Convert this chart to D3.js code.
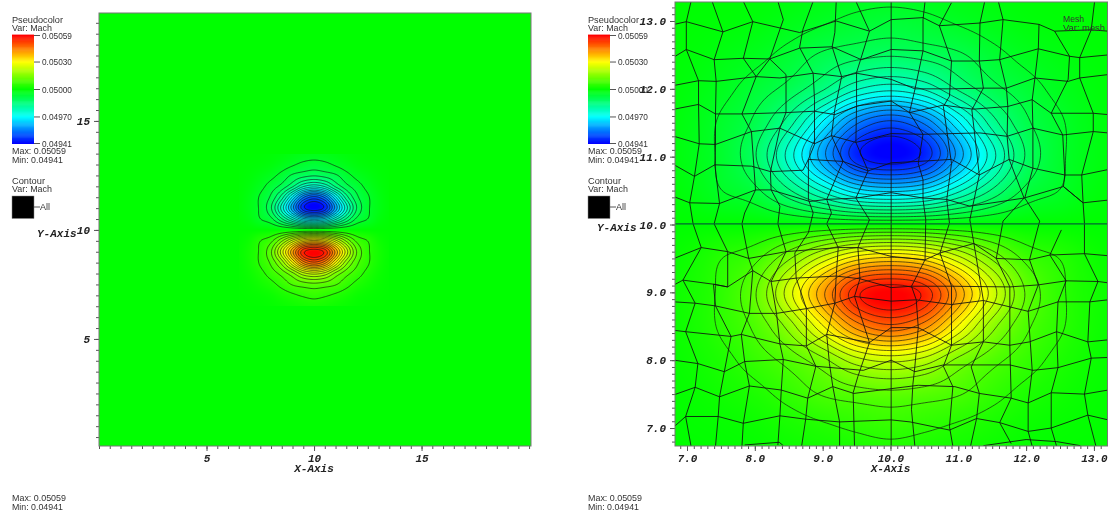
<!DOCTYPE html>
<html>
<head>
<meta charset="utf-8">
<script src="https://cdn.jsdelivr.net/npm/d3@7/dist/d3.min.js"></script>
<style>
  html, body { margin: 0; padding: 0; background: #fff; }
  #wrap { position: relative; width: 1110px; height: 519px; overflow: hidden; filter: blur(0.3px); }
  canvas, svg { position: absolute; left: 0; top: 0; }
  .legend { font-family: "Liberation Sans", Arial, sans-serif; font-size: 9px; fill: #333; }
  .axisText, .tick text { font-family: "Liberation Mono", monospace; font-size: 11px; font-weight: bold; font-style: italic; fill: #222; }
  .tick line { stroke: #555; }
  .domain { display: none; }
</style>
</head>
<body>
<div id="wrap">
  <canvas id="raster" width="1110" height="519"></canvas>
  <svg id="chart" width="1110" height="519"></svg>
</div>
<script>
// legend
var legendTicks = [0.05059, 0.05030, 0.05000, 0.04970, 0.04941];
var legendColors = ['#ff0000', '#ffff00', '#00ff00', '#00ffff', '#0000ff'];
var legendLabels = ['0.05059', '0.05030', '0.05000', '0.04970', '0.04941'];

// axis ticks
var wideTicks = [5, 10, 15];
var zoomTicks = [7, 8, 9, 10, 11, 12, 13];

// Mach on a 0.5 grid, as offset from 0.05 in millionths
var fieldXs = [6.5, 7, 7.5, 8, 8.5, 9, 9.5, 10, 10.5, 11, 11.5, 12, 12.5, 13, 13.5];
var fieldYs = [13.5, 13, 12.5, 12, 11.5, 11, 10.5, 10, 9.5, 9, 8.5, 8, 7.5, 7, 6.5];
var machBase = 0.05;
var machOffsets = [
  [0, -1, -2, -5, -10, -18, -25, -28, -25, -18, -10, -5, -2, -1, 0],
  [-1, -3, -6, -12, -25, -40, -55, -62, -55, -40, -25, -12, -6, -3, -1],
  [-2, -7, -18, -33, -58, -88, -105, -115, -105, -88, -58, -33, -18, -7, -2],
  [-3, -13, -33, -62, -95, -150, -225, -255, -225, -150, -95, -62, -33, -13, -3],
  [-4, -20, -50, -90, -175, -310, -445, -500, -445, -310, -175, -90, -50, -20, -4],
  [-5, -22, -52, -115, -245, -400, -550, -592, -550, -400, -245, -115, -52, -22, -5],
  [-3, -15, -44, -72, -150, -240, -325, -350, -325, -240, -150, -72, -44, -15, -3],
  [0, 0, 0, 0, 0, 0, 0, 0, 0, 0, 0, 0, 0, 0, 0],
  [3, 15, 44, 72, 150, 245, 325, 350, 325, 245, 150, 72, 44, 15, 3],
  [5, 22, 52, 115, 250, 405, 552, 592, 552, 405, 250, 115, 52, 22, 5],
  [4, 20, 50, 90, 170, 300, 430, 480, 430, 300, 170, 90, 50, 20, 4],
  [3, 13, 33, 62, 95, 145, 215, 240, 215, 145, 95, 62, 33, 13, 3],
  [2, 7, 18, 33, 58, 85, 100, 108, 100, 85, 58, 33, 18, 7, 2],
  [1, 3, 6, 12, 25, 38, 50, 58, 50, 38, 25, 12, 6, 3, 1],
  [0, 1, 2, 5, 10, 16, 22, 26, 22, 16, 10, 5, 2, 1, 0]
];
// contour levels, same units, used on both sides of 0.05
var contourLevels = [45, 82, 119, 156, 193, 230, 267, 304, 341, 378, 415, 452, 489, 526, 563];

// mesh lines as [x, y] nodes
var meshUp = [
  [[7.06,13.29],[6.99,12.99],[6.99,12.58],[7.17,12.12],[7.17,11.77],[7.18,11.19],[7.11,10.71],[7.04,10.32],[7.09,10.01],[7.21,9.66],[6.94,9.18],[7.12,8.84],[6.98,8.42],[7.16,7.95],[7.12,7.60],[6.98,7.17],[7.06,6.73]],
  [[7.37,13.29],[7.53,12.84],[7.40,12.43],[7.43,12.11],[7.42,11.63],[7.42,11.18],[7.41,10.88],[7.48,10.31],[7.40,10.01],[7.60,9.60],[7.60,9.08],[7.39,9.12],[7.42,8.80],[7.65,8.35],[7.55,7.83],[7.48,7.46],[7.46,7.17],[7.42,6.73]],
  [[7.83,13.29],[7.97,12.99],[7.83,12.45],[8.02,12.18],[7.81,11.63],[7.95,11.37],[8.01,10.51],[7.85,10.17],[7.81,10.01],[7.91,9.50],[7.97,9.32],[7.92,8.69],[7.80,8.38],[7.85,7.98],[7.92,7.62],[7.83,7.07],[7.81,6.73]],
  [[8.34,13.29],[8.42,13.02],[8.22,12.44],[8.02,12.18]],
  [[8.22,12.44],[8.46,12.21],[8.46,11.65],[8.37,11.42],[8.23,10.78],[8.24,10.51],[8.37,10.27],[8.34,10.01],[8.46,9.60],[8.24,9.16],[8.32,8.69],[8.37,8.24],[8.42,8.01],[8.39,7.56],[8.37,7.18],[8.34,6.75]],
  [[8.86,13.29],[8.71,12.88],[8.66,12.61],[8.86,12.23],[8.88,11.84],[8.88,11.18],[8.79,10.96],[8.79,10.37],[8.86,10.17],[8.79,9.88],[8.59,9.58],[8.61,9.21],[8.76,8.76],[8.76,8.21],[8.90,7.91],[8.78,7.44],[8.75,7.13],[8.69,6.73]],
  [[9.20,13.29],[9.18,12.83],[9.14,12.62],[9.28,12.18],[9.18,11.70],[9.13,11.31],[9.30,10.93],[9.06,10.37],[9.13,10.17],[9.06,10.01],[9.23,9.66],[9.20,9.24],[9.18,8.84],[9.06,8.38],[9.10,7.95],[9.15,7.61],[9.25,7.09],[9.25,6.73]],
  [[9.49,13.29],[9.69,12.85],[9.50,12.24],[9.50,11.75],[9.49,11.21],[9.67,10.79],[9.49,10.39],[9.69,10.07],[9.52,9.66],[9.55,9.20],[9.47,8.94],[9.69,8.26],[9.52,7.76],[9.45,7.52],[9.47,6.73]],
  [[10.01,13.29],[10.01,6.73]],
  [[10.51,13.29],[10.48,13.02],[10.48,12.56],[10.36,11.99],[10.28,11.65],[10.48,11.33],[10.41,10.90],[10.48,10.66],[10.48,10.37],[10.52,10.07],[10.51,9.48],[10.31,9.09],[10.38,8.89],[10.41,8.48],[10.36,7.91],[10.33,7.64],[10.31,7.27],[10.36,6.73]],
  [[10.90,13.27],[10.72,12.93],[10.90,12.41],[10.87,11.89],[10.78,11.74],[10.90,10.90],[10.83,10.37],[10.87,10.02],[10.73,9.58],[10.90,9.09],[10.90,8.82],[10.90,8.22],[10.78,7.91],[10.92,7.61],[10.87,7.02],[10.92,6.73]],
  [[11.39,13.29],[11.32,12.97],[11.31,12.41],[11.37,12.01],[11.20,11.69],[11.31,10.73],[11.17,10.07],[11.23,9.72],[11.37,8.88],[11.37,8.27],[11.19,7.90],[11.31,7.51],[11.27,7.14],[11.18,6.73]],
  [[11.59,13.29],[11.66,13.02],[11.61,12.43],[11.71,12.01],[11.73,11.74],[11.72,11.30],[11.75,10.96],[11.97,10.39],[11.66,10.05],[11.56,9.50],[11.76,9.08],[11.76,8.22],[11.78,7.44],[11.61,7.08],[11.78,6.77]],
  [[12.19,12.95],[12.18,12.59],[12.13,12.16],[12.09,11.84],[12.10,11.42],[12.10,10.83],[11.98,10.39],[12.20,10.05],[12.05,9.48],[12.18,9.11],[12.03,8.72],[12.09,7.85],[12.03,7.37],[12.03,6.95],[12.09,6.73]],
  [[12.42,12.85],[12.64,12.48],[12.62,12.14],[12.37,11.64],[12.54,11.32],[12.57,10.73],[12.55,10.56],[12.84,10.32],[12.86,10.02],[12.86,9.57],[13.06,9.16],[12.94,8.86],[12.91,8.27],[12.96,8.03],[12.86,7.50],[12.91,7.19],[13.03,6.73]],
  [[13.01,13.29],[12.96,12.87],[12.79,12.46],[12.79,12.16],[12.99,11.64],[12.99,11.37],[12.82,10.73],[12.84,10.32]],
  [[12.52,9.92],[12.35,9.55],[12.59,9.17],[12.47,8.86],[12.45,8.42],[12.47,7.89],[12.37,7.52],[12.37,7.00],[12.45,6.73]]
];
var meshAcross = [
  [[6.81,12.95],[6.99,12.99],[7.53,12.84],[7.97,12.99],[8.66,12.83],[9.20,13.00],[9.69,12.85],[10.01,13.02],[10.48,13.05],[10.72,12.93],[11.32,12.97],[11.66,13.02],[12.19,12.95],[12.42,12.85],[12.96,12.87],[13.21,12.85]],
  [[6.81,12.47],[6.99,12.58],[7.40,12.43],[7.83,12.45],[8.22,12.44],[8.66,12.60],[9.14,12.62],[9.57,12.43],[10.01,12.58],[10.48,12.56],[10.90,12.41],[11.31,12.41],[11.61,12.43],[12.18,12.59],[12.64,12.48],[12.79,12.46],[13.21,12.50]],
  [[6.81,12.05],[7.17,12.12],[7.43,12.11],[8.02,12.18],[8.37,12.16],[8.86,12.23],[9.28,12.18],[9.50,12.23],[10.01,12.14],[10.36,12.00],[10.92,12.00],[11.37,12.01],[11.71,12.01],[12.13,12.16],[12.62,12.11],[12.79,12.16],[13.21,12.21]],
  [[6.81,11.70],[7.17,11.77],[7.42,11.63],[7.81,11.63],[8.46,11.65],[8.88,11.67],[9.18,11.62],[9.52,11.75],[10.01,11.82],[10.28,11.65],[10.78,11.76],[11.22,11.70],[11.73,11.74],[12.09,11.84],[12.37,11.64],[12.99,11.64],[13.21,11.62]],
  [[6.81,11.30],[7.18,11.19],[7.42,11.18],[7.95,11.37],[8.37,11.42],[8.88,11.19],[9.13,11.31],[9.49,11.21],[10.01,11.34],[10.48,11.33],[11.32,11.35],[11.72,11.30],[12.10,11.42],[12.54,11.32],[12.99,11.37],[13.21,11.35]],
  [[6.81,10.88],[7.11,10.71],[7.41,10.88],[7.95,10.86],[8.23,10.78],[8.71,10.80],[8.79,10.96],[9.30,10.93],[9.67,10.79],[10.01,10.91],[10.41,10.93],[10.90,10.96],[11.31,10.73],[11.75,10.96],[12.10,10.83],[12.57,10.73],[12.82,10.73],[13.21,10.81]],
  [[6.81,10.41],[7.04,10.32],[7.48,10.31],[8.01,10.51],[8.24,10.51],[8.81,10.34],[9.06,10.37],[9.50,10.39],[10.01,10.47],[10.48,10.39],[10.83,10.37],[11.17,10.27],[11.97,10.39],[12.55,10.56],[12.84,10.32],[13.21,10.36]],
  [[6.81,9.50],[7.21,9.66],[7.60,9.60],[7.91,9.50],[8.46,9.60],[9.23,9.66],[9.52,9.66],[10.01,9.53],[10.51,9.48],[10.73,9.58],[11.23,9.72],[11.56,9.50],[12.05,9.48],[12.35,9.55],[12.86,9.57],[13.21,9.54]],
  [[6.81,9.11],[6.94,9.18],[7.39,9.12],[7.60,9.08],[7.97,9.32],[8.24,9.16],[8.61,9.21],[9.20,9.24],[9.55,9.20],[10.01,9.07],[10.31,9.09],[10.90,9.09],[11.76,9.08],[12.18,9.11],[12.59,9.17],[13.06,9.16],[13.21,9.14]],
  [[6.81,8.86],[7.12,8.84],[7.42,8.80],[7.92,8.69],[8.32,8.69],[8.76,8.76],[9.18,8.84],[9.47,8.94],[10.01,8.87],[10.38,8.89],[10.90,8.82],[11.37,8.88],[12.03,8.72],[12.47,8.86],[12.94,8.86],[13.21,8.89]],
  [[6.81,8.44],[6.98,8.42],[7.65,8.35],[7.80,8.38],[8.37,8.24],[8.76,8.21],[9.06,8.38],[9.69,8.26],[10.01,8.48],[10.41,8.48],[10.90,8.22],[11.37,8.27],[11.76,8.22],[12.05,8.27],[12.45,8.42],[12.91,8.27],[13.21,8.30]],
  [[6.81,8.00],[7.16,7.95],[7.55,7.83],[7.85,7.98],[8.42,8.01],[8.90,7.91],[9.60,7.85],[10.01,8.00],[10.36,7.83],[10.78,7.93],[11.76,7.93],[12.10,7.85],[12.47,7.89],[12.96,8.03],[13.21,8.04]],
  [[6.81,7.49],[7.12,7.60],[7.48,7.46],[7.92,7.62],[8.39,7.56],[8.78,7.44],[9.15,7.61],[9.46,7.51],[10.01,7.58],[10.41,7.63],[10.95,7.61],[11.31,7.51],[11.78,7.44],[12.03,7.37],[12.37,7.52],[12.86,7.50],[13.21,7.56]],
  [[6.81,7.02],[6.98,7.17],[7.46,7.17],[7.83,7.07],[8.37,7.18],[8.75,7.13],[9.25,7.09],[10.01,7.12],[10.29,7.09],[10.87,6.97],[11.27,7.14],[11.61,7.08],[12.03,6.95],[12.37,7.00],[12.91,7.19],[13.21,7.12]],
  [[7.85,6.75],[8.36,6.79],[8.42,6.74]],
  [[11.37,6.74],[12.00,6.83],[12.45,6.80],[12.80,6.74]]
];
var meshHeavy = [
  [[6.82,10.01],[13.21,10.01]]
];

// scales
var wide = {
  id: 'wide', left: 99, right: 531, top: 13, bottom: 446,
  x: d3.scaleLinear().domain([0, 20.09]).range([99, 531]),
  y: d3.scaleLinear().domain([0.09, 19.95]).range([446, 13])
};
var zoom = {
  id: 'zoom', left: 675, right: 1107.5, top: 2, bottom: 446,
  x: d3.scaleLinear().domain([6.823, 13.2]).range([675, 1107.5]),
  y: d3.scaleLinear().domain([6.735, 13.28]).range([446, 2])
};

var colorScale = d3.scaleLinear().domain(legendTicks).range(legendColors).clamp(true);
var colorTable = d3.range(0, 1025).map(function(i) {
  return d3.rgb(colorScale(0.04941 + (0.05059 - 0.04941) * i / 1024));
});

function catmull(a, b, c, d, t) {
  return 0.5 * (2 * b + (c - a) * t + (2 * a - 5 * b + 4 * c - d) * t * t + (3 * b - a - 3 * c + d) * t * t * t);
}

// offset from 0.05 at a data position, nothing outside the read area
function offsetAt(x, y) {
  var fx = x - fieldXs[0], fy = fieldYs[0] - y;
  if (fx < 0 || fy < 0 || fx > 7 || fy > 7) return 0;
  var cx = Math.min(Math.floor(fx * 2), 13), cy = Math.min(Math.floor(fy * 2), 13);
  var tx = fx * 2 - cx, ty = fy * 2 - cy;
  var col = [];
  for (var j = -1; j <= 2; j++) {
    var row = machOffsets[Math.max(0, Math.min(14, cy + j))];
    col.push(catmull(row[Math.max(0, cx - 1)], row[cx], row[cx + 1], row[Math.min(14, cx + 2)], tx));
  }
  return catmull(col[0], col[1], col[2], col[3], ty);
}

function paintPanel(ctx, p) {
  var w = Math.round(p.right - p.left), h = Math.round(p.bottom - p.top);
  var img = ctx.createImageData(w, h);
  for (var j = 0; j < h; j++) {
    var yv = p.y.invert(p.top + j + 0.5);
    for (var i = 0; i < w; i++) {
      var m = machBase + offsetAt(p.x.invert(p.left + i + 0.5), yv) * 1e-6;
      var k = Math.round((m - 0.04941) / (0.05059 - 0.04941) * 1024);
      var c = colorTable[Math.max(0, Math.min(1024, k))];
      var o = (j * w + i) * 4;
      img.data[o] = c.r; img.data[o + 1] = c.g; img.data[o + 2] = c.b; img.data[o + 3] = 255;
    }
  }
  ctx.putImageData(img, Math.round(p.left), Math.round(p.top));
}

var ctx = document.getElementById('raster').getContext('2d');
paintPanel(ctx, wide);
paintPanel(ctx, zoom);

// fine samples of the field for the contour lines
var step = 0.04, gridN = Math.round(7 / step) + 1;
var upper = [], lower = [];
for (var j = 0; j < gridN; j++) {
  for (var i = 0; i < gridN; i++) {
    var d = offsetAt(6.5 + i * step, 13.5 - j * step);
    upper.push(d);
    lower.push(-d);
  }
}
var contourGen = d3.contours().size([gridN, gridN]).thresholds(contourLevels);
var contourSets = contourGen(upper).concat(contourGen(lower));

var svg = d3.select('#chart');
var defs = svg.append('defs');

function drawContours(p) {
  var path = d3.geoPath(d3.geoTransform({
    point: function(gx, gy) {
      this.stream.point(p.x(6.5 + (gx - 0.5) * step), p.y(13.5 - (gy - 0.5) * step));
    }
  }));
  p.layer.append('g').selectAll('path')
    .data(contourSets)
    .enter().append('path')
    .attr('d', path)
    .attr('fill', 'none')
    .attr('stroke', '#111')
    .attr('stroke-opacity', 0.8)
    .attr('stroke-width', 0.8);
}

function drawFrame(p, major, minorStep, fmt) {
  var w = p.right - p.left, h = p.bottom - p.top;
  defs.append('clipPath').attr('id', 'clip-' + p.id)
    .append('rect').attr('x', p.left).attr('y', p.top).attr('width', w).attr('height', h);
  p.layer = svg.append('g').attr('clip-path', 'url(#clip-' + p.id + ')');
  drawContours(p);

  var minorX = d3.range(Math.ceil(p.x.domain()[0] / minorStep) * minorStep, p.x.domain()[1], minorStep);
  var minorY = d3.range(Math.ceil(p.y.domain()[0] / minorStep) * minorStep, p.y.domain()[1], minorStep);

  svg.append('g').attr('transform', 'translate(0,' + p.bottom + ')')
    .call(d3.axisBottom(p.x).tickValues(minorX).tickSize(3).tickFormat(''));
  svg.append('g').attr('transform', 'translate(' + p.left + ',0)')
    .call(d3.axisLeft(p.y).tickValues(minorY).tickSize(3).tickFormat(''));
  svg.append('g').attr('transform', 'translate(0,' + p.bottom + ')')
    .call(d3.axisBottom(p.x).tickValues(major).tickSize(5).tickPadding(3).tickFormat(fmt));
  svg.append('g').attr('transform', 'translate(' + p.left + ',0)')
    .call(d3.axisLeft(p.y).tickValues(major).tickSize(5).tickPadding(4).tickFormat(fmt));

  svg.append('rect').attr('x', p.left).attr('y', p.top).attr('width', w).attr('height', h)
    .attr('fill', 'none').attr('stroke', '#777').attr('stroke-width', 1);
}

drawFrame(wide, wideTicks, 0.5, d3.format('d'));
drawFrame(zoom, zoomTicks, 0.1, d3.format('.1f'));

// mesh, right hand panel only
var meshLine = d3.line().x(function(d) { return zoom.x(d[0]); }).y(function(d) { return zoom.y(d[1]); });
zoom.layer.append('g').selectAll('path')
  .data(meshUp.concat(meshAcross))
  .enter().append('path')
  .attr('d', meshLine)
  .attr('fill', 'none')
  .attr('stroke', '#111')
  .attr('stroke-width', 0.85);
zoom.layer.append('g').selectAll('path')
  .data(meshHeavy)
  .enter().append('path')
  .attr('d', meshLine)
  .attr('fill', 'none')
  .attr('stroke', '#063')
  .attr('stroke-width', 1.4);

function fitText(g, x, y, str, len) {
  var t = g.append('text').attr('class', 'legend').attr('x', x).attr('y', y).text(str);
  if (len) t.attr('textLength', len).attr('lengthAdjust', 'spacingAndGlyphs');
  return t;
}

function drawLegend(dx) {
  var g = svg.append('g').attr('transform', 'translate(' + dx + ',0)');
  fitText(g, 12, 23, 'Pseudocolor', 51);
  fitText(g, 12, 31, 'Var: Mach', 40);

  // colour bar
  var barY = d3.scaleLinear().domain([0.04941, 0.05059]).range([143.5, 35.5]);
  g.append('g').selectAll('rect')
    .data(d3.range(0.04941, 0.05059, 0.00001))
    .enter().append('rect')
    .attr('x', 12).attr('width', 22)
    .attr('y', function(d) { return barY(d + 0.00001); })
    .attr('height', function(d) { return barY(d) - barY(d + 0.00001) + 0.5; })
    .attr('fill', function(d) { return colorScale(d); });

  legendTicks.forEach(function(v, i) {
    g.append('line').attr('x1', 34).attr('x2', 40).attr('y1', barY(v)).attr('y2', barY(v)).attr('stroke', '#555');
    fitText(g, 42, barY(v) + 3, legendLabels[i], 30);
  });

  fitText(g, 12, 154, 'Max:  0.05059', 54);
  fitText(g, 12, 163, 'Min:  0.04941', 51);
  fitText(g, 12, 184, 'Contour', 33);
  fitText(g, 12, 192, 'Var: Mach', 40);
  g.append('rect').attr('x', 12).attr('y', 196).attr('width', 22).attr('height', 22.5)
    .attr('fill', '#000').attr('stroke', '#888').attr('stroke-width', 0.5);
  g.append('line').attr('x1', 34).attr('x2', 40).attr('y1', 207).attr('y2', 207).attr('stroke', '#555');
  fitText(g, 40, 210, 'All', 10);
  fitText(g, 12, 501, 'Max:  0.05059', 54);
  fitText(g, 12, 510, 'Min:  0.04941', 51);
}
drawLegend(0);
drawLegend(576);

function axisTitle(x, y, str, anchor) {
  svg.append('text').attr('class', 'axisText').attr('x', x).attr('y', y)
    .attr('text-anchor', anchor).text(str);
}
axisTitle(314, 471.5, 'X-Axis', 'middle');
axisTitle(890.5, 471.5, 'X-Axis', 'middle');
axisTitle(37, 236.5, 'Y-Axis', 'start');
axisTitle(597, 230.5, 'Y-Axis', 'start');

fitText(svg, 1063, 22, 'Mesh', 21);
fitText(svg, 1063, 31, 'Var: mesh', 42);
</script>
</body>
</html>
